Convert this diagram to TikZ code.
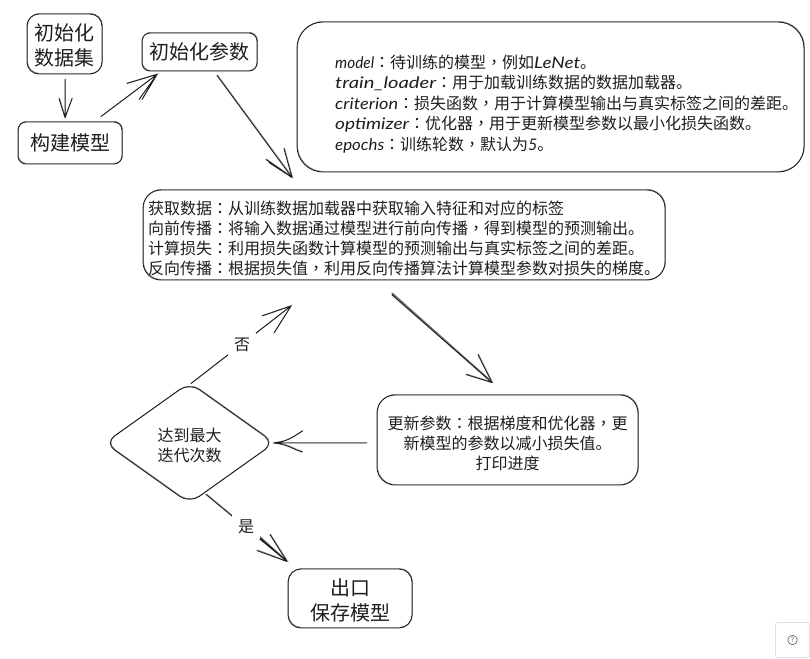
\documentclass[tikz,border=0pt]{standalone}
\usepackage{fontspec}
\usepackage{graphicx}
\setmainfont{Noto Sans CJK SC}
\newfontfamily\tcf{Noto Sans CJK TC}
\newfontfamily\hand{Lato Italic}
\usetikzlibrary{shapes.geometric}
\newcommand{\Cl}{{\tcf ：}}
\newcommand{\Cm}{{\tcf ，}}
\newcommand{\Lt}[2]{\resizebox{#1pt}{\height}{\hand #2}}
\newcommand{\Dn}[1]{\rule{0pt}{#1pt}}
\definecolor{ink}{HTML}{1E1E1E}
\tikzset{
  sk/.style={preaction={draw=ink!55,line width=.6pt,transform canvas={shift={(.5pt,.6pt)}}}},
  boxb/.style={draw=ink,line width=.9pt,text=ink,sk,align=center,inner sep=0pt},
  big/.style={font=\fontsize{20}{25}\selectfont},
  mid/.style={font=\fontsize{16}{20}\selectfont},
  conn/.style={draw=ink,line width=.9pt,line join=round,line cap=round,sk},
  edgelabel/.style={fill=white,text=ink,inner sep=0pt,minimum width=28pt,minimum height=24pt,font=\fontsize{16}{20}\selectfont},
}
\begin{document}
\begin{tikzpicture}[x=1pt,y=-1pt]
\useasboundingbox[fill=white] (0,0) rectangle (810,658);
% nodes
\node[boxb,big,rounded corners=12pt,minimum width=75pt,minimum height=60pt] (data) at (64.5,44) {\Dn{20}初始化\\数据集};
\node[boxb,big,rounded corners=8pt,minimum width=115pt,minimum height=38pt] (param) at (199.5,52) {初始化参数};
\node[boxb,big,rounded corners=8pt,minimum width=104pt,minimum height=42pt] (model) at (70,143) {构建模型};
\node[boxb,rounded corners=26pt,minimum width=507pt,minimum height=150pt] (args) at (550.5,97) {};
\node[anchor=west,text=ink,align=left,inner sep=0pt,font=\fontsize{16}{20.4}\selectfont] (argstext) at (335,104) {%
\Lt{39}{model}\Cl 待训练的模型\Cm 例如\Lt{46}{LeNet}。\\
\Lt{101}{train\_loader}\Cl 用于加载训练数据的数据加载器。\\
\Lt{63}{criterion}\Cl 损失函数\Cm 用于计算模型输出与真实标签之间的差距。\\
\Lt{74}{optimizer}\Cl 优化器\Cm 用于更新模型参数以最小化损失函数。\\
\Lt{49}{epochs}\Cl 训练轮数\Cm 默认为{\hand 5}。};
\node[boxb,mid,rounded corners=18pt,minimum width=522pt,minimum height=90pt,text width=512pt,align=left] (train) at (404,235) {%
\Dn{21}获取数据\Cl 从训练数据加载器中获取输入特征和对应的标签\\
向前传播\Cl 将输入数据通过模型进行前向传播\Cm 得到模型的预测输出。\\
计算损失\Cl 利用损失函数计算模型的预测输出与真实标签之间的差距。\\
反向传播\Cl 根据损失值\Cm 利用反向传播算法计算模型参数对损失的梯度。};
\node[boxb,mid,rounded corners=18pt,minimum width=261pt,minimum height=90pt] (update) at (507.5,440) {%
\Dn{21}更新参数\Cl 根据梯度和优化器\Cm 更\\新模型的参数以减小损失值。\\打印进度};
\node[boxb,mid,diamond,aspect=1.39,rounded corners=12pt,minimum width=170pt,minimum height=121pt] (check) at (189.5,443) {\Dn{18}达到最大\\迭代次数};
\node[boxb,big,rounded corners=13pt,minimum width=124pt,minimum height=59pt] (exit) at (350,598.5) {\Dn{20}出口\\保存模型};
\coordinate (loopback) at (291,306);
% connectors
\draw[conn] ([shift={(.5,5)}]data.south) -- ([shift={(-5,-4)}]model.north) -- ++(-6,-19) ++(6,19) -- ++(7,-19);
\draw[conn] ([shift={(31,-5)}]model.north) -- ([shift={(-42.5,3)}]param.south) -- ++(-30,9) ++(30,-9) -- ++(-18,25) ++(18,-25) -- ++(-15,25);
\draw[conn] ([shift={(17.5,4)}]param.south) -- ([shift={(-112,-12)}]train.north) -- ++(-26,-18) ++(26,18) -- ++(-8,-29) ++(8,29) -- ++(-23,-15);
\draw[conn] ([shift={(-12,13)}]train.south) -- ([shift={(-15.5,-12)}]update.north) -- ++(-26,-8) ++(26,8) -- ++(-14,-28);
\draw[conn] ([shift={(-12,14.5)}]train.south) -- ([shift={(-15.5,-12)}]update.north);
\draw[conn] ([shift={(-10,3)}]update.west) -- ([shift={(-1.5,0)}]check.east)
  .. controls +(14,-1) and +(-8,5) .. ++(29,-12) ++(-29,12) .. controls +(14,1) and +(-8,-2) .. ++(29,9);
\draw[conn] ([shift={(1.5,1.5)}]check.north) -- (loopback) -- ++(-29,10) ++(29,-10) -- ++(-17,27);
\draw[conn] ([shift={(16.5,-9.5)}]check.south) -- ([shift={(-63,-7)}]exit.north) -- ++(-30,-11) ++(30,11) -- ++(-17,-27) ++(17,27) -- ++(-28,-25);
\node[edgelabel] (no) at (242,344.5) {否};
\node[edgelabel] (yes) at (246,527) {是};
% help button
\node[draw=black!12,line width=.8pt,rounded corners=2pt,minimum width=34pt,minimum height=35pt,inner sep=0pt] (help) at (792.5,640) {};
\node[draw=black!65,circle,line width=.6pt,minimum size=9.5pt,inner sep=0pt,text=black!65,font=\fontsize{7}{7}\selectfont] (helpicon) at (help.center) {?};
\end{tikzpicture}
\end{document}
